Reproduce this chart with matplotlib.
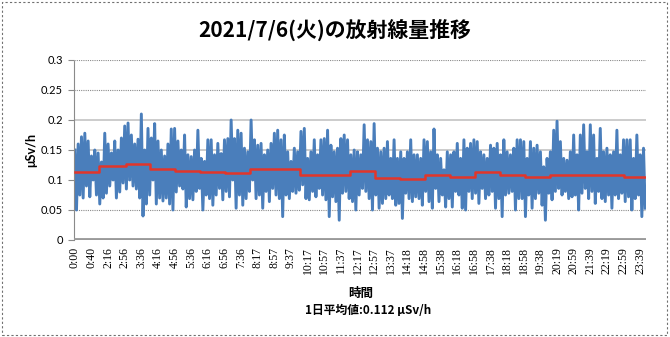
import matplotlib
matplotlib.use('Agg')
import matplotlib.pyplot as plt
from matplotlib.patches import Rectangle

# x-axis labels, one every 10 samples (4 min per sample)
tick_labels = ['0:00', '0:40', '2:16', '2:56', '3:36', '4:16', '4:56', '5:36', '6:16', '6:56',
               '7:36', '8:17', '8:57', '9:37', '10:17', '10:57', '11:37', '12:17', '12:57', '13:37',
               '14:18', '14:58', '15:38', '16:18', '16:58', '17:38', '18:18', '18:58', '19:38', '20:19',
               '20:59', '21:39', '22:19', '22:59', '23:39']

# hourly average (red line), hour 0..23
hourly_avg = [0.114, 0.124, 0.124, 0.126, 0.119, 0.1155, 0.113, 0.111, 0.118, 0.118,
              0.109, 0.108, 0.115, 0.103, 0.102, 0.109, 0.1055, 0.113, 0.109, 0.1055,
              0.108, 0.108, 0.108, 0.1045]

# dose rate readings (uSv/h)
dose = [
    0.15, 0.05, 0.16, 0.075, 0.172, 0.07, 0.178, 0.09, 0.165, 0.072, 0.14, 0.1, 0.15, 0.075,
    0.145, 0.06, 0.13, 0.07, 0.178, 0.078, 0.16, 0.09, 0.145, 0.1, 0.165, 0.07, 0.15, 0.08,
    0.17, 0.095, 0.19, 0.085, 0.195, 0.1, 0.175, 0.09, 0.16, 0.085, 0.168, 0.07, 0.21, 0.04,
    0.15, 0.06, 0.186, 0.075, 0.17, 0.1, 0.194, 0.06, 0.165, 0.07, 0.15, 0.065, 0.14, 0.07,
    0.16, 0.06, 0.185, 0.05, 0.186, 0.08, 0.165, 0.09, 0.15, 0.085, 0.175, 0.055,
    0.142, 0.069, 0.139, 0.067, 0.15, 0.081, 0.183, 0.086, 0.136, 0.05, 0.131, 0.075,
    0.167, 0.069, 0.167, 0.058, 0.142, 0.075, 0.161, 0.086, 0.144, 0.067, 0.167, 0.081,
    0.169, 0.072, 0.2, 0.1, 0.169, 0.053, 0.183, 0.075, 0.178, 0.058, 0.153, 0.069,
    0.147, 0.081, 0.2, 0.1, 0.167, 0.069, 0.158, 0.075, 0.161, 0.053, 0.142, 0.081,
    0.15, 0.064, 0.161, 0.086, 0.178, 0.075, 0.183, 0.069, 0.167, 0.039, 0.175, 0.075,
    0.147, 0.069, 0.131, 0.081, 0.153, 0.078, 0.147, 0.083, 0.181, 0.092,
    0.186, 0.069, 0.136, 0.067, 0.147, 0.081, 0.167, 0.072, 0.142, 0.086, 0.167, 0.075,
    0.169, 0.067, 0.183, 0.039, 0.158, 0.072, 0.147, 0.064, 0.153, 0.033, 0.169, 0.078,
    0.175, 0.081, 0.167, 0.069, 0.142, 0.064, 0.15, 0.05, 0.147, 0.075, 0.142, 0.086,
    0.192, 0.081, 0.167, 0.069, 0.164, 0.05, 0.194, 0.075, 0.153, 0.053, 0.147, 0.061,
    0.153, 0.069, 0.164, 0.075, 0.136, 0.069, 0.167, 0.058, 0.136, 0.061, 0.147, 0.036,
    0.136, 0.078, 0.147, 0.069, 0.167, 0.064, 0.142, 0.072,
    0.142, 0.069, 0.136, 0.058, 0.167, 0.081, 0.164, 0.064, 0.147, 0.053, 0.185, 0.086,
    0.142, 0.064, 0.136, 0.075, 0.117, 0.055, 0.147, 0.069, 0.142, 0.055, 0.147, 0.081,
    0.161, 0.075, 0.136, 0.053, 0.167, 0.05, 0.153, 0.081, 0.161, 0.069, 0.167, 0.078,
    0.164, 0.061, 0.147, 0.086, 0.142, 0.069, 0.136, 0.075, 0.158, 0.081, 0.153, 0.053,
    0.161, 0.069, 0.142, 0.039, 0.167, 0.075, 0.147, 0.078, 0.142, 0.081, 0.153, 0.05,
    0.167, 0.069, 0.167, 0.069, 0.164, 0.039, 0.136, 0.075, 0.164, 0.053,
    0.153, 0.069, 0.158, 0.078, 0.147, 0.058, 0.122, 0.033, 0.136, 0.078, 0.147, 0.067,
    0.183, 0.081, 0.198, 0.086, 0.164, 0.075, 0.136, 0.081, 0.133, 0.069, 0.147, 0.072,
    0.175, 0.075, 0.142, 0.05, 0.175, 0.078, 0.192, 0.086, 0.147, 0.069, 0.192, 0.081,
    0.175, 0.061, 0.136, 0.081, 0.186, 0.069, 0.147, 0.064, 0.153, 0.075, 0.142, 0.053,
    0.147, 0.075, 0.183, 0.069, 0.142, 0.078, 0.167, 0.064, 0.167, 0.072, 0.167, 0.05,
    0.136, 0.069, 0.175, 0.075, 0.142, 0.039, 0.153, 0.053,
]
daily_avg = 0.112

# clock time of each sample -> hourly average for the red line
times = []
for k in range(len(dose)):
    h, m = tick_labels[k // 10].split(':')
    times.append(int(h) * 60 + int(m) + 4 * (k % 10))
avg_line = [hourly_avg[t // 60] for t in times]
x = list(range(len(dose)))

jp = ['Noto Sans CJK JP', 'DejaVu Sans']

fig = plt.figure(figsize=(6.7, 3.37), dpi=100)
fig.patch.set_facecolor('white')
fig.add_artist(Rectangle((2 / 670, 2 / 337), 665 / 670, 333 / 337, transform=fig.transFigure,
                         fill=False, edgecolor='#707070', lw=0.8, linestyle=(0, (2, 2))))

ax = fig.add_axes([74 / 670, 97 / 337, 572 / 670, 180 / 337])

# grid lines
for v in [0.05, 0.1, 0.15, 0.2, 0.25, 0.3]:
    if v in (0.1, 0.15, 0.2):
        ax.axhline(v, color='#c4c4c4', lw=1.2, zorder=0)
    else:
        ax.axhline(v, color='#8a8a8a', lw=0.8, linestyle=(0, (1, 1)), zorder=0)

ax.plot(x, dose, color='#4a7ebb', lw=2.1, zorder=2)
ax.plot(x, avg_line, color='#e2352a', lw=1.8, drawstyle='steps-mid', zorder=3)
ax.axhline(0, color='#9a9a9a', lw=3.5, zorder=4)

ax.set_xlim(-0.5, len(dose) - 0.5)
ax.set_ylim(0, 0.3)
ax.set_yticks([0, 0.05, 0.1, 0.15, 0.2, 0.25, 0.3])
ax.set_yticklabels(['0', '0.05', '0.1', '0.15', '0.2', '0.25', '0.3'], family='Lato', fontsize=8)
ax.set_xticks(range(0, len(tick_labels) * 10, 10))
ax.set_xticklabels(tick_labels, rotation=90, family='Liberation Serif', fontsize=8.5)
ax.tick_params(axis='x', length=0, pad=5)
ax.tick_params(axis='y', length=4, color='#8a8a8a', pad=4)

for s in ['top', 'right', 'bottom']:
    ax.spines[s].set_visible(False)
ax.spines['left'].set_color('#8a8a8a')
ax.spines['left'].set_linestyle((0, (1, 1)))
ax.spines['left'].set_linewidth(0.8)

fig.text(0.5, 1 - 30 / 337, '2021/7/6(火)の放射線量推移', ha='center', va='center',
         fontsize=15, fontweight='bold', family=jp)
fig.text(31 / 670, 1 - 150 / 337, 'μSv/h', ha='center', va='center', rotation=90,
         fontsize=9, fontweight='bold', family='Lato')
fig.text(361 / 670, 1 - 293 / 337, '時間', ha='center', va='center',
         fontsize=9, fontweight='bold', family=jp)
fig.text(368 / 670, 1 - 310 / 337, f'1日平均値:{daily_avg} μSv/h', ha='center', va='center',
         fontsize=8.5, fontweight='bold', family=jp)

fig.savefig('out.png', dpi=100)
